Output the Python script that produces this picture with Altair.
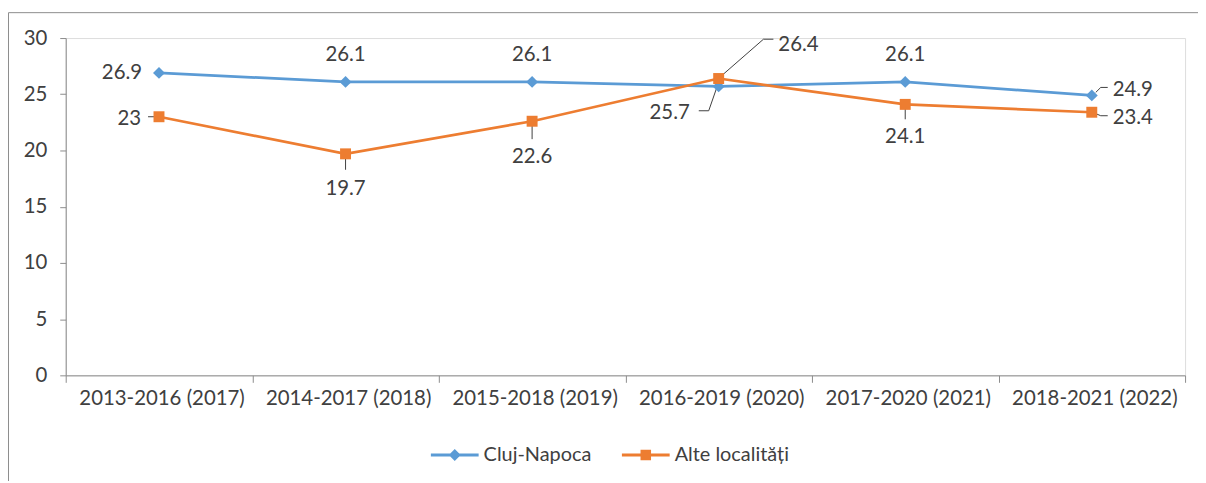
import altair as alt
import pandas as pd

# ---- data ----
categories = ["2013-2016 (2017)", "2014-2017 (2018)", "2015-2018 (2019)",
              "2016-2019 (2020)", "2017-2020 (2021)", "2018-2021 (2022)"]
series = ["Cluj-Napoca", "Alte localități"]
cluj = [26.9, 26.1, 26.1, 25.7, 26.1, 24.9]
alte = [23, 19.7, 22.6, 26.4, 24.1, 23.4]
y_ticks = [0, 5, 10, 15, 20, 25, 30]

colors = ["#5B9BD5", "#ED7D31"]

rows = []
for i, c in enumerate(categories):
    rows.append({"cat": c, "series": series[0], "value": cluj[i]})
    rows.append({"cat": c, "series": series[1], "value": alte[i]})
df = pd.DataFrame(rows)

FONT = "Lato"
TXT = "#404040"
AXC = "#8c8c8c"
W, H = 1125, 339
BAND = W / len(categories)

# label placement (style only): (series idx, category idx) -> dx, dy, align, leader vertices
label_spec = {
    (0, 0): (-17, 0, "right", None),
    (0, 1): (0, -27, "center", None),
    (0, 2): (0, -27, "center", None),
    (0, 3): (-29, 26.4, "right", [(-2, 1.5), (-10, 24.5), (-20, 24.5)]),
    (0, 4): (0, -27, "center", None),
    (0, 5): (21, -5.6, "left", [(4, -3), (9, -8), (16, -8)]),
    (1, 0): (-18, 2.3, "right", [(-11, 0), (0, 0)]),
    (1, 1): (0, 35.4, "center", [(0, 2), (0, 16)]),
    (1, 2): (0, 36.4, "center", [(0, 2), (0, 18)]),
    (1, 3): (60, -33.8, "left", [(2, -2), (45, -39.5), (55, -39.5)]),
    (1, 4): (0, 33.2, "center", [(0, 2), (0, 15)]),
    (1, 5): (21, 5.8, "left", [(3, 1), (9, 3.5), (16, 3.5)]),
}

xscale = alt.Scale(type="band", domain=categories, paddingInner=0, paddingOuter=0)
yscale = alt.Scale(domain=[0, 30], nice=False)
cscale = alt.Scale(domain=series, range=colors)

X = alt.X("cat:N", scale=xscale, sort=categories,
          axis=alt.Axis(title=None, labelAngle=0, tickBand="extent", grid=False,
                        labelOffset=BAND / 2 - 8,
                        domainColor=AXC, tickColor=AXC, tickSize=7, labelPadding=16,
                        labelFont=FONT, labelFontSize=20.5, labelColor=TXT))
Y = alt.Y("value:Q", scale=yscale,
          axis=alt.Axis(title=None, values=y_ticks, grid=False, domainColor=AXC,
                        tickColor=AXC, tickSize=6, labelPadding=13,
                        labelFont=FONT, labelFontSize=20.5, labelColor=TXT))
Xs = alt.X("cat:N", scale=xscale, sort=categories)
Ys = alt.Y("value:Q", scale=yscale)

base = alt.Chart(df)

layers = []

# border frame
frame = alt.Chart(pd.DataFrame({"k": [0]})).mark_rect(
    fill="transparent", stroke="#8c8c8c", strokeWidth=1
).encode(x=alt.value(-57.5), x2=alt.value(1500), y=alt.value(-25.5), y2=alt.value(800))
layers.append(frame)

# leader lines
for (si, ci), (dx, dy, al, lead) in label_spec.items():
    if not lead:
        continue
    flt = (alt.datum.series == series[si]) & (alt.datum.cat == categories[ci])
    for p1, p2 in zip(lead[:-1], lead[1:]):
        layers.append(
            base.transform_filter(flt).mark_rule(
                color="#404040", strokeWidth=1,
                xOffset=p1[0], yOffset=p1[1], x2Offset=p2[0], y2Offset=p2[1]
            ).encode(x=Xs, y=Ys, x2=alt.X2("cat"), y2=alt.Y2("value"))
        )

shapes = ["diamond", "square"]
sizes = [144, 121]
for si, s in enumerate(series):
    flt = alt.datum.series == s
    line = base.transform_filter(flt).mark_line(strokeWidth=2.75, color=colors[si]).encode(
        x=X if si == 0 else Xs, y=Y if si == 0 else Ys)
    pts = base.transform_filter(flt).mark_point(
        shape=shapes[si], filled=True, size=sizes[si], opacity=1, color=colors[si]).encode(
        x=Xs, y=Ys)
    layers += [line, pts]

# data labels
for (si, ci), (dx, dy, al, lead) in label_spec.items():
    flt = (alt.datum.series == series[si]) & (alt.datum.cat == categories[ci])
    layers.append(
        base.transform_filter(flt).mark_text(
            dx=dx, dy=dy, align=al, baseline="middle", font=FONT, fontSize=20.5, color=TXT
        ).encode(x=Xs, y=Ys, text=alt.Text("value:Q", format="~g"))
    )

# legend layer (no visible marks)
path_d = ("M-1,-0.0625L1,-0.0625L1,0.0625L-1,0.0625Z "
          "M0,-0.25L0.25,0L0,0.25L-0.25,0Z")
path_s = ("M-1,-0.0625L1,-0.0625L1,0.0625L-1,0.0625Z "
          "M-0.22,-0.22L0.22,-0.22L0.22,0.22L-0.22,0.22Z")
leg = alt.Legend(title=None, orient="none", legendX=367, legendY=395, direction="horizontal",
                 labelFont=FONT, labelFontSize=20, labelColor=TXT, symbolSize=2304,
                 symbolStrokeWidth=0, columnPadding=30, labelOffset=5, padding=0)
legend_layer = base.transform_filter("datum.value < 0").mark_point(
    filled=True, size=2304, opacity=1).encode(
    x=Xs, y=Ys,
    color=alt.Color("series:N", scale=cscale, legend=leg),
    shape=alt.Shape("series:N", scale=alt.Scale(domain=series, range=[path_d, path_s]), legend=leg),
)
layers.append(legend_layer)

chart = alt.layer(*layers).properties(
    width=W, height=H,
    padding={"left": 58, "top": 29, "right": 13, "bottom": 105},
    autosize=alt.AutoSizeParams(type="none"),
).configure_view(stroke=None).configure(background="white")

chart.save("out.html", embed_options={"renderer": "svg", "actions": False})
